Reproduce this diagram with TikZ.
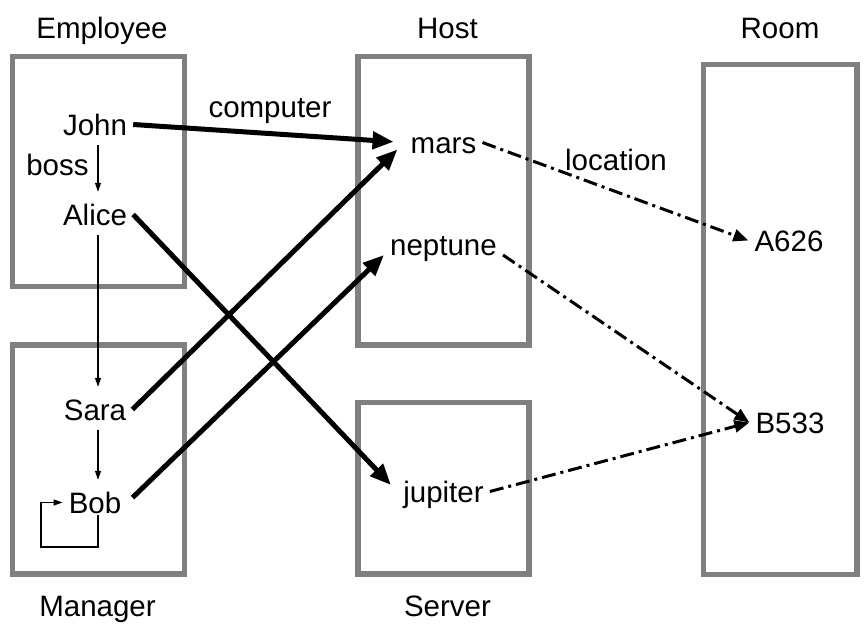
\documentclass[tikz,border=0pt]{standalone}
\usepackage{fontspec}
\setmainfont{Liberation Sans}
\usetikzlibrary{arrows.meta, positioning}

\tikzset{
  rahmen/.style={draw=black!50, line width=5.5pt},
  objekt/.style={inner xsep=6pt, inner ysep=2pt, text height=21pt, text depth=0pt},
  titel/.style={inner sep=0pt, anchor=base},
  dick/.style={line width=5pt, -{Triangle[length=21pt, width=17pt]}},
  duenn/.style={line width=1.2pt, -{Triangle[length=9pt, width=6pt]}},
  boss/.style={duenn, shorten <=8pt, shorten >=10pt},
  strichpunkt/.style={line width=3pt, dash pattern=on 14pt off 5pt on 3pt off 5pt,
    -{Triangle[length=15pt, width=12pt]}}
}

\begin{document}
\begin{tikzpicture}[x=1pt, y=-1pt, font=\fontsize{29.5}{34}\selectfont]
\useasboundingbox (0,0) rectangle (867,626);

% rahmen
\draw[rahmen] (12.5,56.5) rectangle (184.5,286.5);   % Employee
\draw[rahmen] (12.5,345) rectangle (184.5,574);      % Manager
\draw[rahmen] (358,56.5) rectangle (529,345);        % Host
\draw[rahmen] (358,402.5) rectangle (529,574);       % Server
\draw[rahmen] (703.5,64.5) rectangle (857,574.5);    % Room

% titel
\node[titel] (tEmployee) at (102,39) {Employee};
\node[titel] (tHost) at (447.5,39) {Host};
\node[titel] (tRoom) at (780,39) {Room};
\node[titel] (tManager) at (97.5,616) {Manager};
\node[titel] (tServer) at (447.5,616) {Server};

% objekte (mitte = grundlinie - 10.5)
\node[objekt] (John) at (95,124.5) {John};
\node[objekt] (Alice) at (95,214.5) {Alice};
\node[objekt] (Sara) at (95,409.5) {Sara};
\node[objekt] (Bob) at (95,502.5) {Bob};
\node[objekt] (mars) at (443.5,142.5) {mars};
\node[objekt] (neptune) at (443.5,244.5) {neptune};
\node[objekt] (jupiter) at (443.5,491.5) {jupiter};
\node[objekt] (A626) at (789,240.5) {A626};
\node[objekt] (B533) at (790,422.5) {B533};
\coordinate (schleife) at (41,547);

% beschriftungen
\node[titel] (lcomputer) at (270,117) {computer};
\node[titel] (lboss) at (57.5,175) {boss};
\node[titel] (llocation) at (616,170) {location};

% boss
\draw[boss] ([xshift=3pt]John.south) -- ([xshift=3pt]Alice.north);
\draw[boss] ([xshift=3pt]Alice.south) -- ([xshift=3pt]Sara.north);
\draw[boss] ([xshift=3pt]Sara.south) -- ([xshift=3pt]Bob.north);
\draw[duenn] ([xshift=3pt]Bob.south) |- (schleife) |- (Bob.west);

% computer
\draw[dick, shorten >=11pt] (John.east) -- (mars.west);
\draw[dick, shorten >=9pt] (Alice.east) -- (jupiter.west);
\draw[dick, shorten >=10pt] (Sara.east) -- (mars.west);
\draw[dick, shorten <=7pt] (Bob.east) -- (neptune.base west);

% location
\draw[strichpunkt] (mars.east) -- (A626.west);
\draw[strichpunkt] (neptune.base east) -- (B533.west);
\draw[strichpunkt] (jupiter.east) -- (B533.west);
\end{tikzpicture}
\end{document}
